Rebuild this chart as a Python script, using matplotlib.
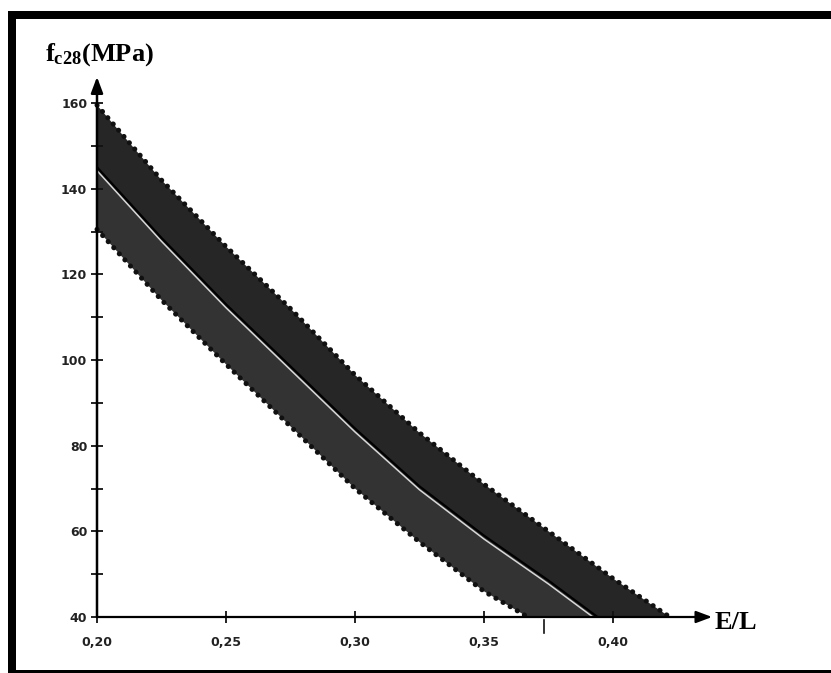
import matplotlib
matplotlib.use('Agg')
import matplotlib.pyplot as plt
import numpy as np
from matplotlib.patches import Rectangle

plt.rcParams['mathtext.fontset'] = 'custom'
plt.rcParams['mathtext.rm'] = 'Liberation Serif:bold'
plt.rcParams['mathtext.it'] = 'Liberation Serif:bold'
plt.rcParams['mathtext.bf'] = 'Liberation Serif:bold'

# ---- data ----
x_upper = [0.20, 0.225, 0.25, 0.275, 0.30, 0.325, 0.35, 0.375, 0.40, 0.422]
f_upper = [159.5, 142, 126.5, 112, 96.5, 83, 71, 60, 49, 40]

x_lower = [0.20, 0.225, 0.25, 0.275, 0.30, 0.325, 0.35, 0.367]
f_lower = [130.5, 114, 99, 84.5, 70, 57.5, 46, 40]

x_center = [0.20, 0.225, 0.25, 0.275, 0.30, 0.325, 0.35, 0.375, 0.394]
f_center = [145, 128.5, 113, 98.5, 84, 70.5, 59, 48.5, 40]

x_ticks = [0.20, 0.25, 0.30, 0.35, 0.40]
x_ticklabels = ['0,20', '0,25', '0,30', '0,35', '0,40']
y_ticks = [40, 60, 80, 100, 120, 140, 160]
y_ticklabels = ['40', '60', '80', '100', '120', '140', '160']
y_minor = [50, 70, 90, 110, 130, 150]
extra_xtick = 0.3733

W, H = 831, 673
fig = plt.figure(figsize=(W / 100, H / 100), dpi=100)
fig.patch.set_facecolor('white')

ax = fig.add_axes([97 / W, (H - 617) / H, 623 / W, 547 / H])
ax.set_xlim(0.20, 0.20 + 623 / 2580)
ax.set_ylim(40, 40 + 547 / 4.2833)
for s in ax.spines.values():
    s.set_visible(False)

# band: upper half and lower half
xu, fu = np.array(x_upper), np.array(f_upper)
xl, fl = np.array(x_lower), np.array(f_lower)
xc, fc = np.array(x_center), np.array(f_center)
ax.fill(np.concatenate([xu, xc[::-1]]), np.concatenate([fu, fc[::-1]]),
        color='#262626', lw=0, zorder=1)
ax.fill(np.concatenate([xc, xl[::-1]]), np.concatenate([fc, fl[::-1]]),
        color='#333333', lw=0, zorder=1)

# dotted (scalloped) edges
for xx, ff in [(xu, fu), (xl, fl)]:
    ax.plot(xx, ff, color='#111111', lw=3.6, linestyle=(0, (0.05, 1.6)),
            dash_capstyle='round', zorder=2, clip_on=False)

# centre curve with light halo
ax.plot(xc, fc - 0.8, color='#d8d8d8', lw=1.1, zorder=3)
ax.plot(xc, fc, color='black', lw=1.6, zorder=4)

# ticks
ax.set_xticks(x_ticks)
ax.set_xticklabels(x_ticklabels)
ax.set_yticks(y_ticks)
ax.set_yticklabels(y_ticklabels)
ax.set_yticks(y_minor, minor=True)
ax.tick_params(which='both', direction='inout', length=8, width=1.3, color='#111111')
ax.tick_params(axis='x', pad=10)
ax.tick_params(axis='y', pad=3)
for lab in ax.get_xticklabels() + ax.get_yticklabels():
    lab.set_fontfamily('DejaVu Sans')
    lab.set_fontweight('bold')
    lab.set_fontsize(9)
    lab.set_color('#222222')

# extra small tick below the x axis
ax.plot([extra_xtick, extra_xtick], [39.3, 36.3], color='#111111', lw=1.2,
        clip_on=False, zorder=5)

# axis arrows
ax.annotate('', xy=(0.4384, 40), xytext=(0.20, 40), xycoords='data',
            arrowprops=dict(arrowstyle='-|>,head_length=0.8,head_width=0.3',
                            lw=1.6, color='black', shrinkA=0, shrinkB=0,
                            mutation_scale=12),
            annotation_clip=False, zorder=6)
ax.annotate('', xy=(0.20, 166.1), xytext=(0.20, 40), xycoords='data',
            arrowprops=dict(arrowstyle='-|>,head_length=0.8,head_width=0.3',
                            lw=1.8, color='black', shrinkA=0, shrinkB=0,
                            mutation_scale=12),
            annotation_clip=False, zorder=6)

# axis titles
fig.text(45 / W, (H - 61) / H, r'$\mathrm{f}_{\mathrm{c28}}$(MPa)',
         fontsize=19, family='Liberation Serif', fontweight='bold',
         ha='left', va='baseline')
fig.text(715 / W, (H - 629) / H, 'E/L', fontsize=19, family='Liberation Serif',
         fontweight='bold', ha='left', va='baseline')

# black frame of the scan
fig.add_artist(Rectangle((8 / W, 0), 8 / W, (H - 11) / H,
                         transform=fig.transFigure, color='black', lw=0))
fig.add_artist(Rectangle((8 / W, (H - 19) / H), (W - 8) / W, 8 / H,
                         transform=fig.transFigure, color='black', lw=0))
fig.add_artist(Rectangle((8 / W, 0), (W - 8) / W, 3 / H,
                         transform=fig.transFigure, color='black', lw=0))

fig.savefig('out.png', dpi=100)
